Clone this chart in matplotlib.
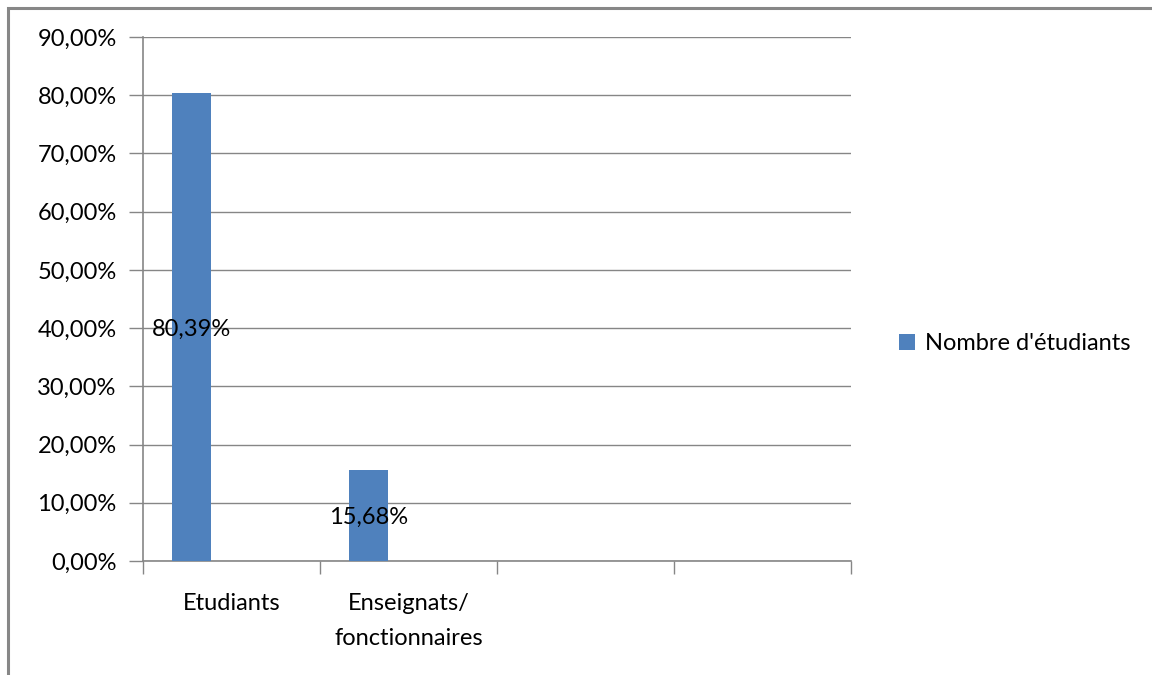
import matplotlib
matplotlib.use("Agg")
import matplotlib.pyplot as plt
from matplotlib.patches import Rectangle
from matplotlib.ticker import FixedLocator, FuncFormatter

categories = ["Etudiants", "Enseignats/\nfonctionnaires", "", ""]
values = [80.39, 15.68]
series_name = "Nombre d'étudiants"
y_ticks = [0, 10, 20, 30, 40, 50, 60, 70, 80, 90]

BAR = "#4f81bd"
GRID = "#868686"
FS = 17

plt.rcParams["font.family"] = ["Lato", "DejaVu Sans"]

fig = plt.figure(figsize=(11.52, 6.75), dpi=100)
ax = fig.add_axes([143 / 1152, 1 - 561 / 675, (851 - 143) / 1152, (561 - 37) / 675])

n_slots = len(categories)
positions = [i - 0.226 for i in range(len(values))]
bars = ax.bar(positions, values, width=0.22, color=BAR, label=series_name, zorder=3)

for x, v in zip(positions, values):
    ax.text(x, v / 2 - 0.4, f"{v:.2f}%".replace(".", ","), ha="center", va="center",
            fontsize=FS, color="black", zorder=4)

ax.set_xlim(-0.5, n_slots - 0.5)
ax.set_ylim(0, 90)
ax.yaxis.set_major_locator(FixedLocator(y_ticks))
ax.yaxis.set_major_formatter(FuncFormatter(lambda v, p: f"{v:.2f}%".replace(".", ",")))
ax.grid(axis="y", color=GRID, linewidth=1, zorder=0)

ax.set_xticks([i - 0.5 for i in range(n_slots + 1)])
ax.set_xticklabels([])
for i, c in enumerate(categories):
    if c:
        ax.text(i, -5.5, c, ha="center", va="top", fontsize=FS,
                linespacing=1.85, transform=ax.transData)

ax.tick_params(axis="y", length=10, width=1, color=GRID, labelsize=FS, pad=9)
ax.tick_params(axis="x", length=9, width=1, color=GRID)
for side in ["top", "right"]:
    ax.spines[side].set_visible(False)
for side in ["left", "bottom"]:
    ax.spines[side].set_color(GRID)
    ax.spines[side].set_linewidth(1.2)

leg = fig.legend(handles=[bars], labels=[series_name], loc="center left",
                 bbox_to_anchor=(878 / 1152, 1 - 344 / 675), frameon=False,
                 fontsize=FS, handlelength=0.65, handleheight=0.65,
                 handletextpad=0.45)

# outer chart frame
fig.add_artist(Rectangle((7.5 / 1152, -0.05), 1.1, 1 - 7.5 / 675 + 0.05,
                         transform=fig.transFigure, fill=False,
                         edgecolor="#878787", linewidth=2.2))

fig.savefig("out.png", dpi=100, facecolor="white")
